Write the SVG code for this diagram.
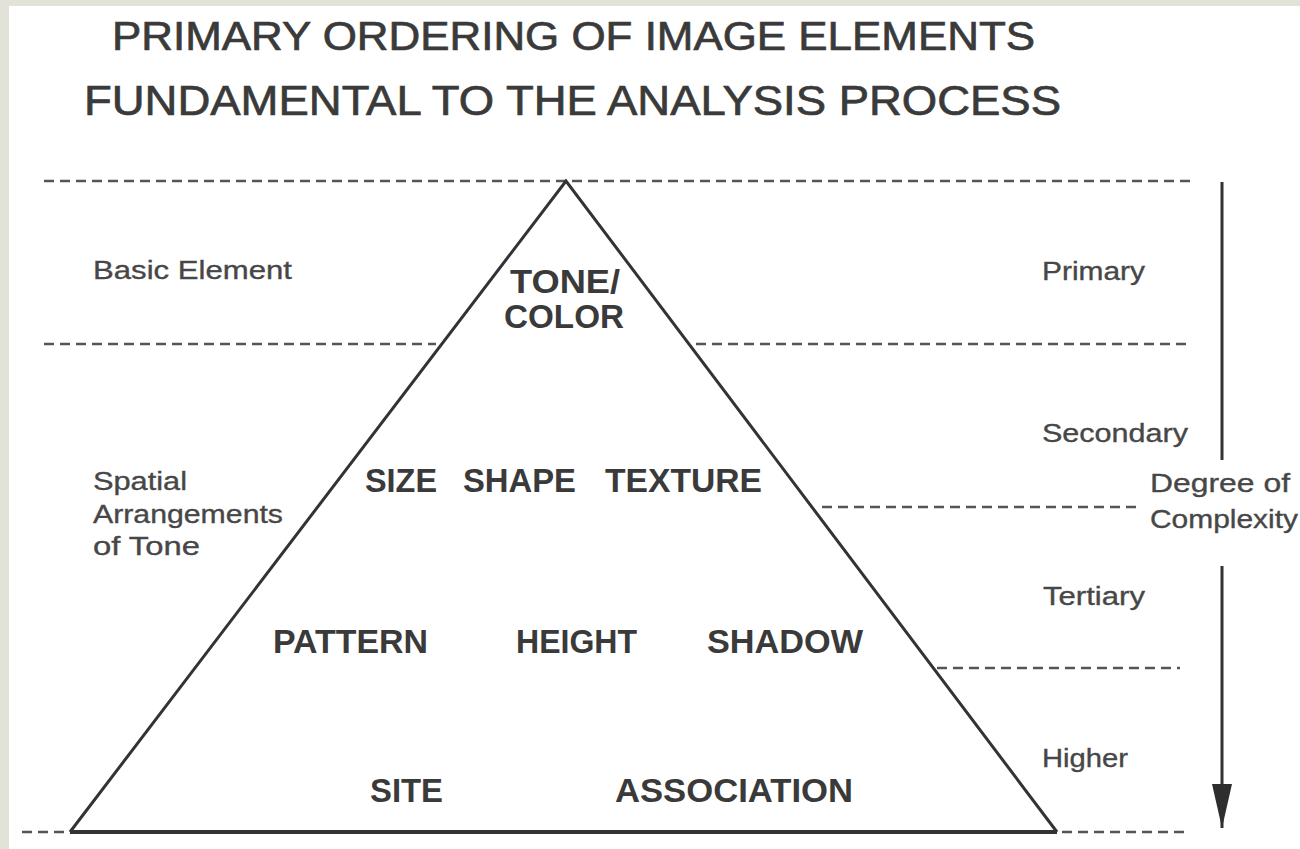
<svg xmlns="http://www.w3.org/2000/svg" width="1300" height="849" viewBox="0 0 1300 849">
  <style>
    .title { font-family: "Liberation Sans", Arial, sans-serif; fill: #3a3a3a; stroke: #3a3a3a; stroke-width: 0.7; }
    .lbl { font-family: "Liberation Sans", Arial, sans-serif; font-size: 26px; fill: #474747; stroke: #474747; stroke-width: 0.35; }
    .elem { font-family: "Liberation Sans", Arial, sans-serif; font-size: 33px; font-weight: bold; fill: #3a3a3a; }
    .dash { stroke: #555; stroke-width: 2.4; stroke-dasharray: 10 6; fill: none; }
    .solid { stroke: #333; stroke-width: 3; fill: none; }
  </style>
  <defs>
    <marker id="arrowhead" viewBox="0 0 44 20" refX="44" refY="10" markerWidth="44" markerHeight="20" markerUnits="userSpaceOnUse" orient="auto">
      <path d="M0,0 L44,10 L0,20 Z" fill="#2e2e2e"/>
    </marker>
  </defs>

  <rect x="0" y="0" width="1300" height="849" fill="#e3e2d8"/>
  <rect x="9" y="6" width="1291" height="843" fill="#ffffff"/>

  <g id="title">
    <text class="title" x="112" y="50" font-size="40" textLength="923" lengthAdjust="spacingAndGlyphs">PRIMARY ORDERING OF IMAGE ELEMENTS</text>
    <text class="title" x="84" y="115" font-size="42" textLength="977" lengthAdjust="spacingAndGlyphs">FUNDAMENTAL TO THE ANALYSIS PROCESS</text>
  </g>

  <g id="connectors">
    <line class="dash" x1="44" y1="181" x2="1190" y2="181"/>
    <line class="dash" x1="44" y1="344" x2="436" y2="344"/>
    <line class="dash" x1="696" y1="344" x2="1186" y2="344"/>
    <line class="dash" x1="822" y1="507" x2="1142" y2="507"/>
    <line class="dash" x1="937" y1="668" x2="1180" y2="668"/>
    <line class="dash" x1="22" y1="832" x2="70" y2="832"/>
    <line class="dash" x1="1062" y1="832" x2="1190" y2="832"/>
    <line class="solid" x1="1222" y1="182" x2="1222" y2="460"/>
    <line class="solid" x1="1222" y1="566" x2="1222" y2="828" marker-end="url(#arrowhead)"/>
  </g>

  <g id="pyramid">
    <path class="solid" d="M70,832 L566,181 L1057,832"/>
    <line x1="70" y1="832" x2="1057" y2="832" stroke="#333" stroke-width="4"/>
  </g>

  <g id="node-tone-color">
    <text class="elem" x="510" y="293" textLength="110" lengthAdjust="spacingAndGlyphs">TONE/</text>
    <text class="elem" x="504" y="328" textLength="120" lengthAdjust="spacingAndGlyphs">COLOR</text>
  </g>
  <g id="node-size"><text class="elem" x="365" y="492" textLength="72" lengthAdjust="spacingAndGlyphs">SIZE</text></g>
  <g id="node-shape"><text class="elem" x="463" y="492" textLength="113" lengthAdjust="spacingAndGlyphs">SHAPE</text></g>
  <g id="node-texture"><text class="elem" x="605" y="492" textLength="157" lengthAdjust="spacingAndGlyphs">TEXTURE</text></g>
  <g id="node-pattern"><text class="elem" x="273" y="653" textLength="155" lengthAdjust="spacingAndGlyphs">PATTERN</text></g>
  <g id="node-height"><text class="elem" x="516" y="653" textLength="121" lengthAdjust="spacingAndGlyphs">HEIGHT</text></g>
  <g id="node-shadow"><text class="elem" x="707" y="653" textLength="156" lengthAdjust="spacingAndGlyphs">SHADOW</text></g>
  <g id="node-site"><text class="elem" x="370" y="802" textLength="73" lengthAdjust="spacingAndGlyphs">SITE</text></g>
  <g id="node-association"><text class="elem" x="615" y="802" textLength="238" lengthAdjust="spacingAndGlyphs">ASSOCIATION</text></g>

  <g id="label-basic-element"><text class="lbl" x="93" y="279" textLength="199" lengthAdjust="spacingAndGlyphs">Basic Element</text></g>
  <g id="label-spatial">
    <text class="lbl" x="93" y="490" textLength="94" lengthAdjust="spacingAndGlyphs">Spatial</text>
    <text class="lbl" x="93" y="523" textLength="190" lengthAdjust="spacingAndGlyphs">Arrangements</text>
    <text class="lbl" x="93" y="555" textLength="107" lengthAdjust="spacingAndGlyphs">of Tone</text>
  </g>
  <g id="label-primary"><text class="lbl" x="1042" y="280" textLength="103" lengthAdjust="spacingAndGlyphs">Primary</text></g>
  <g id="label-secondary"><text class="lbl" x="1042" y="442" textLength="146" lengthAdjust="spacingAndGlyphs">Secondary</text></g>
  <g id="label-degree">
    <text class="lbl" x="1150" y="492" textLength="140" lengthAdjust="spacingAndGlyphs">Degree of</text>
    <text class="lbl" x="1150" y="528" textLength="148" lengthAdjust="spacingAndGlyphs">Complexity</text>
  </g>
  <g id="label-tertiary"><text class="lbl" x="1043" y="605" textLength="102" lengthAdjust="spacingAndGlyphs">Tertiary</text></g>
  <g id="label-higher"><text class="lbl" x="1042" y="767" textLength="86" lengthAdjust="spacingAndGlyphs">Higher</text></g>
</svg>
